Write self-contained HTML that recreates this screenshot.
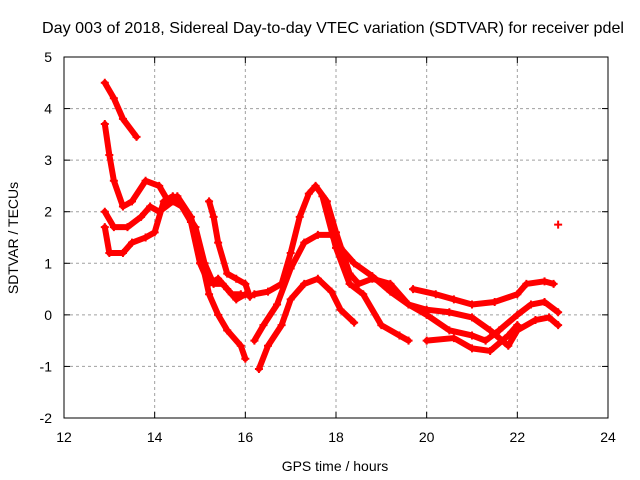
<!DOCTYPE html>
<html><head><meta charset="utf-8"><style>
body{margin:0;background:#fff;}
svg{display:block;font-family:"Liberation Sans",sans-serif;}
</style></head><body>
<svg id="chart" width="640" height="480">
<text x="333" y="33" font-size="16" text-anchor="middle" textLength="582" lengthAdjust="spacingAndGlyphs">Day 003 of 2018, Sidereal Day-to-day VTEC variation (SDTVAR) for receiver pdel</text>
<text x="335" y="471" font-size="14" text-anchor="middle">GPS time / hours</text>
<text x="18" y="238" font-size="14" text-anchor="middle" transform="rotate(-90 18 238)">SDTVAR / TECUs</text>
<g id="grid"></g><g id="ticks"></g><g id="marks"></g>
<rect x="64" y="57" width="544" height="361" fill="none" stroke="#000"/>
</svg>
<script>
const xTicks=[12,14,16,18,20,22,24];
const yTicks=[-2,-1,0,1,2,3,4,5];
const traceA_t=[12.9,13.1,13.3,13.6];
const traceA_v=[4.5,4.2,3.8,3.45];
const traceB_t=[12.9,13.0,13.1,13.3,13.5,13.8,14.1,14.3,14.5,14.8,15.0,15.2,15.4,15.6,15.9,16.0];
const traceB_v=[3.7,3.1,2.6,2.1,2.2,2.6,2.5,2.2,2.3,1.9,1.2,0.4,0.0,-0.3,-0.6,-0.85];
const traceC_t=[12.9,13.1,13.4,13.7,13.9,14.1,14.4,14.6,14.8,15.0,15.2,15.4,15.6,15.8,16.0];
const traceC_v=[2.0,1.7,1.7,1.9,2.1,2.0,2.2,2.1,1.8,1.0,0.6,0.7,0.5,0.3,0.4];
const traceD_t=[12.9,13.0,13.3,13.5,13.8,14.0,14.2,14.4,14.6,14.9,15.1,15.3,15.5,15.7,15.9];
const traceD_v=[1.7,1.2,1.2,1.4,1.5,1.6,2.2,2.3,2.1,1.7,1.0,0.6,0.6,0.4,0.4];
const traceE_t=[15.2,15.3,15.4,15.6,15.8,16.0,16.1];
const traceE_v=[2.2,1.9,1.4,0.8,0.7,0.6,0.35];
const traceF_t=[16.2,16.5,16.8,17.0,17.2,17.4,17.55,17.8,18.0,18.3,18.5,18.8,19.2,19.6,20.0,20.5,21.0,21.3,21.6,22.0,22.3,22.6,22.9];
const traceF_v=[0.4,0.45,0.6,1.2,1.9,2.35,2.5,2.2,1.6,0.8,0.6,0.7,0.6,0.2,0.0,-0.3,-0.4,-0.5,-0.3,0.0,0.2,0.25,0.05];
const traceG_t=[16.2,16.4,16.7,17.0,17.3,17.6,17.9,18.1,18.4,18.8,19.2,19.6,20.0,20.5,21.0,21.4,21.8,22.0,22.4,22.7,22.9];
const traceG_v=[-0.5,-0.2,0.2,0.9,1.4,1.55,1.55,1.3,1.0,0.75,0.45,0.2,0.1,0.05,-0.05,-0.3,-0.6,-0.3,-0.1,-0.05,-0.2];
const traceH_t=[16.3,16.5,16.8,17.0,17.3,17.6,17.9,18.1,18.4];
const traceH_v=[-1.05,-0.6,-0.2,0.3,0.6,0.7,0.45,0.1,-0.15];
const traceI_t=[17.7,18.0,18.3,18.6,19.0,19.4,19.6];
const traceI_v=[2.3,1.3,0.6,0.4,-0.2,-0.4,-0.5];
const traceJ_t=[19.7,20.2,20.6,21.0,21.5,22.0,22.2,22.6,22.8];
const traceJ_v=[0.5,0.4,0.3,0.2,0.25,0.4,0.6,0.65,0.6];
const traceK_t=[20.0,20.6,21.0,21.4,21.8,22.0];
const traceK_v=[-0.5,-0.45,-0.65,-0.7,-0.4,-0.2];
const traceL_t=[22.9];
const traceL_v=[1.75];
const traces=[[traceA_t,traceA_v],[traceB_t,traceB_v],[traceC_t,traceC_v],[traceD_t,traceD_v],[traceE_t,traceE_v],[traceF_t,traceF_v],[traceG_t,traceG_v],[traceH_t,traceH_v],[traceI_t,traceI_v],[traceJ_t,traceJ_v],[traceK_t,traceK_v],[traceL_t,traceL_v]];
const NS="http://www.w3.org/2000/svg";
const X=t=>64+(t-12)*544/12;
const Y=v=>418-(v+2)*361/7;
function mk(tag,attrs,parent){const e=document.createElementNS(NS,tag);for(const k in attrs)e.setAttribute(k,attrs[k]);parent.appendChild(e);return e;}
const grid=document.getElementById('grid'),ticks=document.getElementById('ticks'),marks=document.getElementById('marks');
xTicks.forEach(t=>{
 if(t>12&&t<24){const g=mk('line',{x1:X(t),x2:X(t),y1:57,y2:418,stroke:'#a0a0a0','stroke-dasharray':'3,3'},grid);
 
 }
 mk('line',{x1:X(t),x2:X(t),y1:418,y2:412,stroke:'#000'},ticks);
 mk('line',{x1:X(t),x2:X(t),y1:57,y2:63,stroke:'#000'},ticks);
 const l=mk('text',{x:X(t),y:442,'font-size':14,'text-anchor':'middle'},ticks);l.textContent=t;
 
 
});
yTicks.forEach(v=>{
 if(v>-2&&v<5){const g=mk('line',{x1:64,x2:608,y1:Y(v),y2:Y(v),stroke:'#a0a0a0','stroke-dasharray':'3,3'},grid);
 
 }
 mk('line',{x1:64,x2:70,y1:Y(v),y2:Y(v),stroke:'#000'},ticks);
 mk('line',{x1:608,x2:602,y1:Y(v),y2:Y(v),stroke:'#000'},ticks);
 const l=mk('text',{x:52,y:Y(v)+5,'font-size':14,'text-anchor':'end'},ticks);l.textContent=v;
 
 
});
traces.forEach(([ts,vs],i)=>{
 const pts=ts.map((t,j)=>X(t)+','+Y(vs[j])).join(' ');
 const pl=mk('polyline',{points:pts,fill:'none',stroke:'#ff0000','stroke-width':6,'stroke-linejoin':'round','stroke-linecap':'round'},marks);
 
 
 ts.forEach((t,j)=>{
  const x=X(t),y=Y(vs[j]);
  const p=mk('path',{d:`M${x-4},${y}H${x+4}M${x},${y-4}V${y+4}`,stroke:'#ff0000','stroke-width':2},marks);
  
  
 });
});
</script>
</body></html>
